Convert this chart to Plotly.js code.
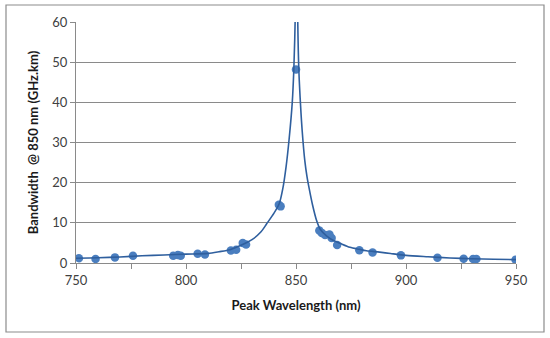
<!DOCTYPE html>
<html>
<head>
<meta charset="utf-8">
<script src="https://cdn.plot.ly/plotly-3.0.1.min.js"></script>
<style>
  html, body { margin: 0; padding: 0; background: #ffffff; }
  #chart { width: 550px; height: 338px; }
</style>
</head>
<body>
<div id="chart"></div>
<script>
// Measured points
const wavelength = [751.3, 758.9, 767.7, 775.9, 794.2, 796.3, 797.6, 805.3, 808.6, 820.4, 822.8, 825.8, 827.3, 842.2, 843.0, 850.0, 860.6, 861.7, 863.2, 865.2, 866.2, 868.7, 878.8, 884.8, 897.7, 914.3, 926.2, 930.5, 932.0, 949.8];
const bandwidth  = [1.2, 1.0, 1.4, 1.8, 1.8, 2.0, 1.8, 2.3, 2.1, 3.1, 3.3, 5.0, 4.6, 14.5, 14.1, 48.2, 8.1, 7.5, 7.0, 7.1, 6.2, 4.5, 3.2, 2.6, 1.9, 1.3, 1.05, 1.0, 1.0, 0.8];

// Fitted curve
const curveX = [750, 760, 770, 780, 790, 800, 810, 815, 820, 825, 830, 834, 836.6, 840, 842.4, 844, 845.5, 846.9, 848.3, 849.0, 849.6, 850.2, 850.8, 851.3, 852.1, 852.8, 854, 855, 856, 857.5, 859.4, 861, 864, 867, 870, 874.5, 878.8, 882, 888, 893, 900, 910, 920, 930, 940, 950];
const curveY = [1.2, 1.3, 1.5, 1.8, 2.0, 2.2, 2.4, 2.8, 3.3, 4.4, 5.8, 7.7, 9.7, 12.4, 14.8, 18.5, 24, 31, 40, 48, 60, 95, 60, 48, 39, 33, 25.5, 21.5, 18.5, 14.5, 10.5, 8.4, 6.7, 5.6, 4.9, 3.9, 3.4, 3.06, 2.7, 2.35, 1.9, 1.55, 1.25, 1.05, 0.95, 0.85];

// Axis ticks
const xTickVals = [750, 775, 800, 825, 850, 875, 900, 925, 950];
const xTickText = ['750', '', '800', '', '850', '', '900', '', '950'];
const yTickVals = [0, 10, 20, 30, 40, 50, 60];

const xTitle = 'Peak Wavelength (nm)';
const yTitle = 'Bandwidth  @ 850 nm (GHz.km)';

const M = {l: 76, r: 34, t: 22, b: 75};
const W = 550, H = 338;
const pw = W - M.l - M.r, ph = H - M.t - M.b;
const px = v => (v - M.l) / pw;
const py = v => (H - M.b - v) / ph;

const gray = '#8a8a8a';
const font = 'Lato, "Open Sans", sans-serif';

const traces = [
  {
    x: wavelength, y: bandwidth, type: 'scatter', mode: 'markers',
    marker: {color: '#4a7ebf', size: 8.5, line: {width: 0}},
    hoverinfo: 'skip', showlegend: false
  },
  {
    x: curveX, y: curveY, type: 'scatter', mode: 'lines',
    line: {color: '#2f5f9e', width: 1.6, shape: 'spline', smoothing: 0.8},
    hoverinfo: 'skip', showlegend: false
  }
];

const layout = {
  width: W, height: H,
  margin: M,
  paper_bgcolor: '#ffffff', plot_bgcolor: '#ffffff',
  font: {family: font, size: 13, color: '#404040'},
  showlegend: false,
  xaxis: {
    range: [750, 950], tickvals: xTickVals, ticktext: xTickText,
    ticks: 'outside', ticklen: 5, tickcolor: gray, tickwidth: 1,
    showline: true, linecolor: gray, linewidth: 1,
    showgrid: false, zeroline: false,
    tickfont: {family: font, size: 13, color: '#404040'},
    title: {text: xTitle, font: {family: font, size: 13, color: '#1a1a1a', weight: 'bold'}, standoff: 14}
  },
  yaxis: {
    range: [0, 60], tickvals: yTickVals,
    ticks: 'outside', ticklen: 5, tickcolor: gray, tickwidth: 1,
    showline: true, linecolor: gray, linewidth: 1,
    showgrid: true, gridcolor: gray, gridwidth: 1, zeroline: false,
    tickfont: {family: font, size: 13, color: '#404040'},
    title: {text: yTitle, font: {family: font, size: 13, color: '#1a1a1a', weight: 'bold'}, standoff: 10}
  },
  shapes: [{
    type: 'rect', xref: 'paper', yref: 'paper',
    x0: px(6), x1: px(544), y0: py(332), y1: py(5),
    line: {color: '#8c8c8c', width: 1.2}, fillcolor: 'rgba(0,0,0,0)', layer: 'below'
  }]
};

Plotly.newPlot('chart', traces, layout, {staticPlot: true, displayModeBar: false});
</script>
</body>
</html>
